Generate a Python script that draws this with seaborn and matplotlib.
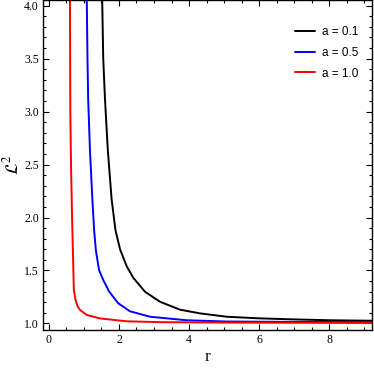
import matplotlib
matplotlib.use("Agg")
import matplotlib.pyplot as plt
from matplotlib.ticker import MultipleLocator, FormatStrFormatter
import seaborn as sns
import pandas as pd

# values
r_01 = [1.52, 1.55, 1.60, 1.68, 1.79, 1.90, 2.03, 2.22, 2.41, 2.74, 3.17, 3.74, 4.31, 5.08, 6.0, 7.0, 8.0, 9.3]
L_01 = [4.06, 3.50, 3.12, 2.64, 2.17, 1.88, 1.70, 1.54, 1.43, 1.30, 1.205, 1.13, 1.095, 1.063, 1.048, 1.038, 1.030, 1.025]

r_05 = [1.08, 1.10, 1.12, 1.17, 1.24, 1.29, 1.34, 1.43, 1.55, 1.72, 1.98, 2.31, 2.89, 3.93, 5.08, 7.0, 9.3]
L_05 = [4.06, 3.50, 3.12, 2.64, 2.17, 1.88, 1.69, 1.505, 1.41, 1.30, 1.19, 1.115, 1.063, 1.03, 1.018, 1.014, 1.012]

r_10 = [0.600, 0.61, 0.63, 0.66, 0.69, 0.71, 0.76, 0.82, 0.89, 1.08, 1.46, 2.22, 3.17, 5.0, 9.3]
L_10 = [4.06, 3.00, 2.50, 2.00, 1.60, 1.32, 1.22, 1.16, 1.126, 1.08, 1.047, 1.02, 1.012, 1.008, 1.004]

labels = ["a = 0.1", "a = 0.5", "a = 1.0"]
colors = ["black", "blue", "red"]

df = pd.concat([
    pd.DataFrame({"r": r_01, "L2": L_01, "case": labels[0]}),
    pd.DataFrame({"r": r_05, "L2": L_05, "case": labels[1]}),
    pd.DataFrame({"r": r_10, "L2": L_10, "case": labels[2]}),
])

sns.set_style("ticks", {"axes.edgecolor": "black", "xtick.color": "black",
                        "ytick.color": "black", "text.color": "black",
                        "axes.labelcolor": "black"})
plt.rcParams["font.family"] = ["Liberation Serif", "DejaVu Serif"]
plt.rcParams["mathtext.fontset"] = "stix"

fig = plt.figure(figsize=(3.74, 3.68), dpi=100)
ax = fig.add_axes([0.115, 0.103, 0.88, 0.896])

sns.lineplot(data=df, x="r", y="L2", hue="case", palette=colors,
             estimator=None, sort=False, linewidth=1.4, ax=ax)

ax.set_xlim(-0.17, 9.23)
ax.set_ylim(0.937, 4.05)
ax.xaxis.set_major_locator(MultipleLocator(2))
ax.xaxis.set_minor_locator(MultipleLocator(0.5))
ax.yaxis.set_major_locator(MultipleLocator(0.5))
ax.yaxis.set_minor_locator(MultipleLocator(0.1))
ax.yaxis.set_major_formatter(FormatStrFormatter("%.1f"))
ax.tick_params(which="both", direction="in", top=True, right=True, labelsize=8.5,
               width=0.8, pad=3, colors="black")
ax.tick_params(which="major", length=4)
ax.tick_params(which="minor", length=2)
for s in ax.spines.values():
    s.set_linewidth(1.0)
    s.set_color("black")

ax.set_xlabel("r", fontsize=12.5, labelpad=2)
ax.set_ylabel(r"$\mathcal{L}^2$", fontsize=12.5, labelpad=1)

leg = ax.legend(frameon=False, loc="upper right", bbox_to_anchor=(0.99, 0.955),
                prop={"family": "Liberation Sans", "size": 8.5},
                handlelength=1.7, handletextpad=0.6, labelspacing=0.75)

fig.savefig("out.png", dpi=100)
